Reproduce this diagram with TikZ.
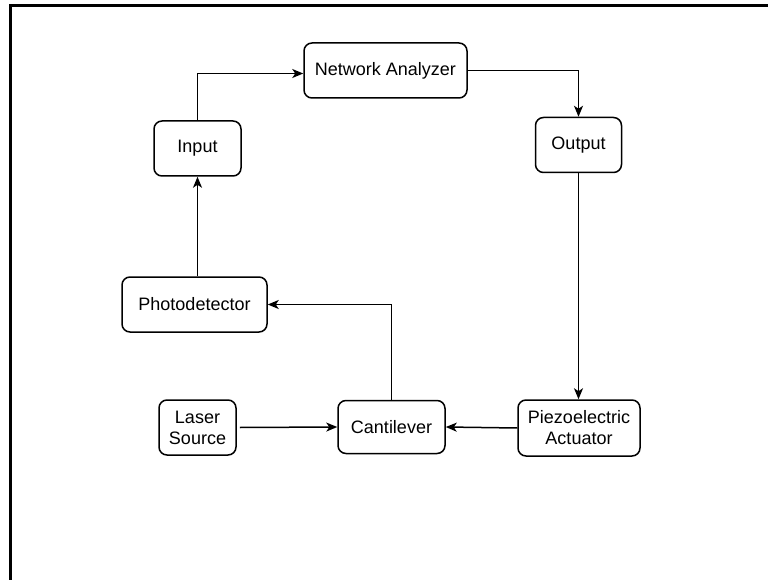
\documentclass[tikz,border=0pt]{standalone}
\usepackage{fontspec}
\setmainfont{Liberation Sans}
\usetikzlibrary{arrows.meta}
\begin{document}
\begin{tikzpicture}[x=1pt,y=-1pt,
  box/.style={draw, line width=1.5pt, rounded corners=8pt, inner sep=0pt,
    align=center, font=\fontsize{18}{21}\selectfont},
  arr/.style={draw, line width=1.5pt, -{Stealth[length=11pt,width=9pt,inset=3pt]}},
  frame/.style={draw, line width=3pt}]
\useasboundingbox (0,0) rectangle (768,580);
\draw[frame] (10,582) -- (10,6) -- (770,6);
\node[box, minimum width=163pt, minimum height=55pt] (na) at (385.5,70.5) {Network Analyzer};
\node[box, minimum width=87pt, minimum height=55pt] (input) at (197.5,148.5) {Input};
\node[box, minimum width=86pt, minimum height=55pt] (output) at (578.5,145) {Output};
\node[box, minimum width=145pt, minimum height=55pt] (photo) at (194.5,304.5) {Photodetector};
\node[box, minimum width=77pt, minimum height=55pt] (laser) at (197.5,427.5) {Laser\\Source};
\node[box, minimum width=107pt, minimum height=53pt] (cant) at (391.5,427) {Cantilever};
\node[box, minimum width=122pt, minimum height=56pt] (piezo) at (579,428) {Piezoelectric\\Actuator};
\draw[arr] (input.north) |- ([yshift=-3pt]na.west);
\draw[arr] (na.east) -| (output.north);
\draw[arr] (output.south) -- (output.south |- piezo.north);
\draw[arr] (piezo.west) -- (cant.east);
\draw[arr] ([xshift=3pt]laser.east) -- (cant.west);
\draw[arr] (cant.north) |- (photo.east);
\draw[arr] (input.south |- photo.north) -- (input.south);
\end{tikzpicture}
\end{document}
